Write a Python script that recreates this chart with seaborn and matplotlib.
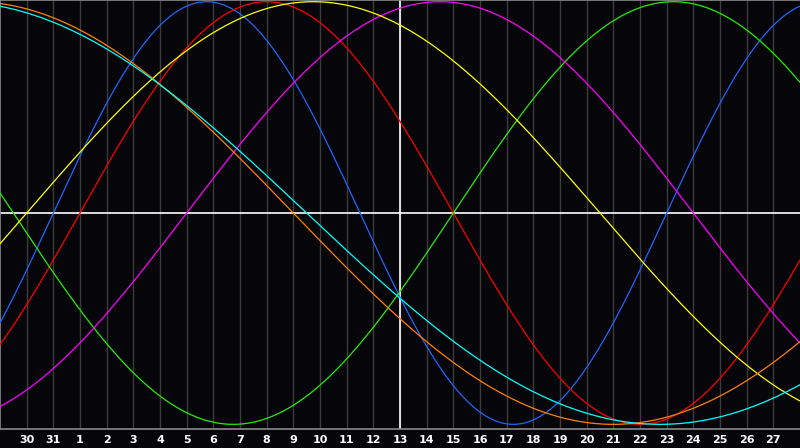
import numpy as np
import pandas as pd
import seaborn as sns
import matplotlib.pyplot as plt

# day labels under the grid lines (positions 1..29 across a 30-day window)
day_labels = ['30', '31'] + [str(i) for i in range(1, 28)]
today_label = '13'

# cycles: length in days and the day offset (from left edge) of an upward zero crossing
cycle_names = ['physical', 'emotional', 'intellectual', 'intuitive',
               'aesthetic', 'awareness', 'spiritual']
cycle_periods = [23, 28, 33, 38, 43, 48, 53]
cycle_upcross = [2, 3, 17, 7, 1, -13, -15]
cycle_colors = ['#1e66ff', '#ff0000', '#22ee00', '#ff00ff',
                '#ffff00', '#ff8000', '#00ffff']

sns.set_style('dark')

xs = np.linspace(0, 30, 901)
rows = []
for name, per, up in zip(cycle_names, cycle_periods, cycle_upcross):
    for x in xs:
        rows.append((name, x, np.sin(2 * np.pi * (x - up) / per)))
df = pd.DataFrame(rows, columns=['cycle', 'day', 'value'])

bg = '#060509'
fig = plt.figure(figsize=(8, 4.48), dpi=100, facecolor=bg)
ax = fig.add_axes([0, 19 / 448, 1, 429 / 448])
ax.set_facecolor(bg)

ticks = np.arange(1, len(day_labels) + 1)
for t in ticks:
    ax.axvline(t, color='#3c3c3c', lw=1, zorder=1)

today_pos = ticks[day_labels.index(today_label)]
ax.axhline(0, color='white', lw=1.2, zorder=2)
ax.axvline(today_pos, color='white', lw=1.2, zorder=2)

sns.lineplot(data=df, x='day', y='value', hue='cycle', hue_order=cycle_names,
             palette=dict(zip(cycle_names, cycle_colors)), legend=False,
             linewidth=0.9, ax=ax, zorder=3)

ax.set_xlim(0, 30)
ax.set_ylim(-1.022, 1.008)
ax.set_xticks(ticks)
ax.set_xticklabels(day_labels, color='white', fontsize=8, fontweight='bold')
ax.set_yticks([])
ax.tick_params(axis='x', length=0, pad=4)
ax.set_xlabel('')
ax.set_ylabel('')
ax.grid(False)
for side in ['left', 'top', 'bottom']:
    ax.spines[side].set_visible(True)
    ax.spines[side].set_color('#8a8a8a')
    ax.spines[side].set_linewidth(1.2)
ax.spines['right'].set_visible(False)

fig.savefig('out.png', dpi=100, facecolor=bg)
